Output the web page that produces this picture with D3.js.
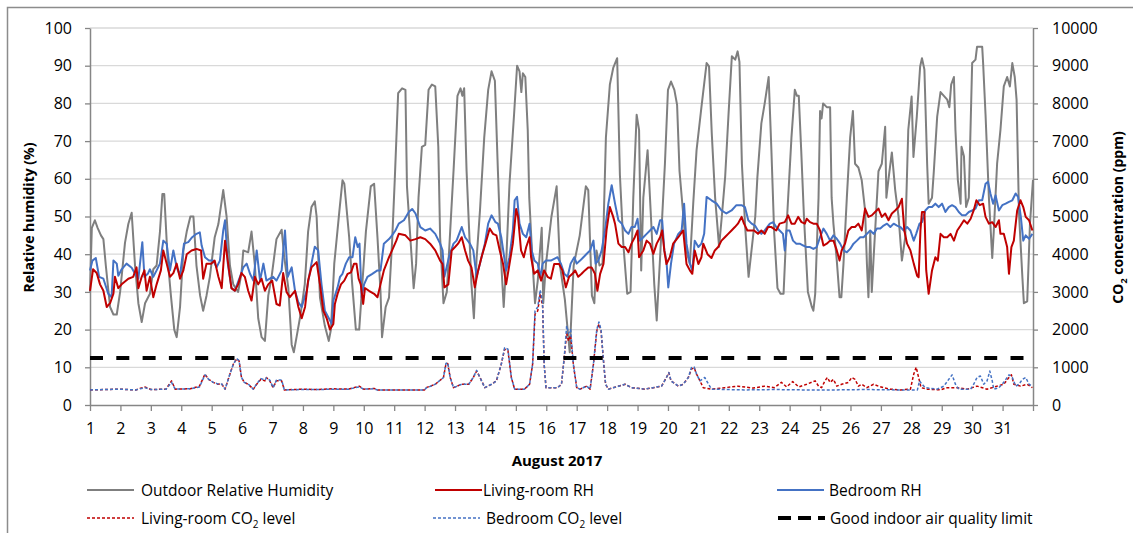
<!DOCTYPE html>
<html>
<head>
<meta charset="utf-8">
<script src="https://cdn.jsdelivr.net/npm/d3@7"></script>
<style>
  body { margin: 0; background: #fff; }
  svg { display: block; font-family: "Open Sans", sans-serif; }
</style>
</head>
<body>
<svg id="svg"></svg>
<script>
// data: [day of August (fractional), value]
const outdoorRH = [[1.0,30],[1.06,47],[1.16,49],[1.25,47],[1.36,45],[1.44,44],[1.52,37],[1.66,26],[1.77,24],[1.88,24],[1.99,30],[2.15,43],[2.26,48],[2.37,51],[2.48,37],[2.59,27],[2.7,22],[2.81,27],[2.97,29.5],[3.08,36],[3.19,37],[3.3,46],[3.38,56],[3.44,56],[3.55,39],[3.66,29],[3.77,20],[3.85,18],[3.96,26],[4.07,41],[4.18,46],[4.3,50],[4.4,50],[4.5,37],[4.62,29],[4.72,25],[4.83,29],[4.94,34],[5.1,44.5],[5.22,48],[5.38,57],[5.49,50],[5.6,37],[5.71,32],[5.87,30],[5.98,35],[6.04,41],[6.2,40.5],[6.31,46],[6.42,37],[6.53,23],[6.64,18],[6.75,17],[6.86,29],[6.97,34],[7.13,44],[7.3,46.5],[7.39,39],[7.52,31],[7.63,16],[7.7,14],[7.79,18],[7.9,23],[8.0,28.5],[8.06,32],[8.17,46],[8.28,52.5],[8.39,54],[8.45,50],[8.56,28.5],[8.72,21],[8.85,17],[8.92,20],[9.03,37.5],[9.2,51.6],[9.3,59.6],[9.36,58.7],[9.52,44.5],[9.62,32],[9.74,20],[9.85,20],[9.96,33],[10.07,46],[10.23,58],[10.34,58.7],[10.45,44.5],[10.55,30],[10.6,18],[10.72,26],[10.83,28.5],[10.93,43],[11.02,60],[11.13,82.7],[11.26,84],[11.37,83.6],[11.42,58],[11.53,44.5],[11.64,31],[11.72,37.5],[11.8,55],[11.91,68.5],[12.02,69],[12.13,83.6],[12.24,85],[12.35,84.5],[12.45,68.5],[12.51,44.5],[12.62,27],[12.73,30],[12.84,46],[12.95,62],[13.08,82],[13.18,84],[13.24,82],[13.3,84],[13.38,62],[13.54,32],[13.62,23],[13.71,39],[13.82,51.6],[13.96,71],[14.09,83.6],[14.2,88.5],[14.31,86],[14.41,62],[14.52,37.5],[14.6,26],[14.68,37.5],[14.79,58.7],[14.94,77],[15.04,90],[15.12,88.5],[15.18,83],[15.23,88],[15.31,87],[15.39,73],[15.44,55],[15.55,37.5],[15.63,27],[15.72,33],[15.85,47],[15.9,27],[15.99,37.5],[16.17,50],[16.34,58],[16.45,37],[16.61,28],[16.77,14],[16.9,37],[17.1,45],[17.3,58],[17.38,57],[17.5,29],[17.58,27],[17.65,41],[17.75,37],[17.85,37.5],[17.96,71],[18.09,85],[18.2,89.4],[18.33,92],[18.42,61],[18.53,43],[18.66,29.5],[18.77,30],[18.86,55],[18.97,77],[19.05,73],[19.12,35.7],[19.19,55],[19.33,67.6],[19.44,50],[19.55,32],[19.63,22.4],[19.74,39],[19.9,64],[20.0,83.6],[20.1,85.8],[20.21,83.6],[20.3,79.6],[20.38,62],[20.49,51.6],[20.6,41],[20.72,37.5],[20.83,53.4],[20.94,67.6],[21.1,79],[21.27,90.7],[21.35,89.8],[21.44,72],[21.55,55],[21.68,42],[21.77,50],[21.88,60.5],[21.99,77],[22.1,92.5],[22.21,91.6],[22.29,93.8],[22.35,91],[22.43,64],[22.54,47],[22.65,34],[22.76,42],[22.87,50],[22.94,60.5],[23.07,74.7],[23.18,80],[23.31,87],[23.4,67.6],[23.49,46],[23.6,31],[23.7,29.5],[23.8,29.5],[23.89,46],[24.06,71],[24.17,83.6],[24.24,82],[24.3,82],[24.38,67.6],[24.47,50],[24.6,30],[24.73,26],[24.78,25],[24.84,29.5],[24.95,55],[25.0,78],[25.05,76],[25.1,80],[25.22,79],[25.33,79],[25.38,55],[25.44,48],[25.55,38.3],[25.64,28.6],[25.7,28.6],[25.77,37.5],[25.88,55],[25.99,71],[26.08,78],[26.15,64],[26.26,63],[26.37,59.6],[26.48,51.6],[26.54,37.5],[26.59,28.6],[26.65,46],[26.7,30],[26.76,39],[26.92,62],[27.03,64],[27.14,73.8],[27.18,55],[27.25,60],[27.36,67],[27.47,57],[27.58,50],[27.69,38.3],[27.8,44.5],[27.9,73],[28.01,81.8],[28.07,65.8],[28.18,76.5],[28.29,89.8],[28.35,92],[28.43,89],[28.52,64],[28.57,53.4],[28.68,55],[28.74,62],[28.85,76.5],[28.96,83],[29.07,82],[29.18,81],[29.25,79],[29.31,85],[29.4,87],[29.45,73],[29.53,59.6],[29.62,53.4],[29.65,68.5],[29.73,66],[29.8,52.5],[29.89,55],[30.0,90.7],[30.11,91.6],[30.16,95],[30.33,95],[30.36,90.7],[30.44,77],[30.55,55],[30.66,39],[30.71,46],[30.82,64],[30.93,73],[31.04,84.5],[31.15,87],[31.24,84.5],[31.32,90.7],[31.4,87],[31.46,81],[31.54,50.8],[31.65,34],[31.7,27],[31.81,27.5],[31.9,48],[32.0,59.7]];

const livingRH = [[1.0,30.3],[1.1,36],[1.22,35],[1.33,32],[1.44,30.3],[1.55,26],[1.66,27],[1.77,29.5],[1.82,34],[1.93,31],[2.04,32],[2.26,33.5],[2.42,34],[2.53,36.5],[2.59,31],[2.7,34],[2.79,35.7],[2.86,30.3],[2.97,34],[3.08,28.6],[3.19,32],[3.33,35.7],[3.41,41],[3.52,37.5],[3.63,34],[3.74,35],[3.85,37.5],[3.96,33.5],[4.07,35.7],[4.18,40],[4.34,41],[4.5,41.4],[4.65,41],[4.72,33.5],[4.83,37.5],[4.99,37.5],[5.1,38.3],[5.22,34],[5.33,31],[5.44,43.6],[5.57,35.7],[5.65,31],[5.76,30.3],[5.87,32],[5.98,35],[6.09,34],[6.2,30.3],[6.31,27.7],[6.42,34],[6.53,32],[6.64,33.5],[6.75,30.3],[6.86,32],[6.99,33],[7.13,26.8],[7.24,26.4],[7.35,35],[7.46,30],[7.57,28.6],[7.74,30.3],[7.85,26],[7.96,23],[8.07,26],[8.17,33],[8.28,36.5],[8.45,37.9],[8.56,32],[8.67,25],[8.78,23],[8.89,20],[9.0,21.5],[9.05,26.8],[9.14,29.5],[9.25,32],[9.36,33],[9.47,34.8],[9.58,35.2],[9.68,37.5],[9.76,37.5],[9.83,33.5],[9.9,32],[9.98,26.8],[10.04,31],[10.17,30.3],[10.34,29.5],[10.45,28.6],[10.55,32],[10.66,35.7],[10.83,39.2],[10.93,41],[11.07,43.6],[11.15,45.4],[11.37,45],[11.53,43.6],[11.7,44],[11.86,44.5],[12.02,44],[12.18,42.8],[12.35,41],[12.51,38.3],[12.59,37.4],[12.65,31.2],[12.78,32],[12.89,41],[13.0,41.9],[13.1,42.8],[13.22,44.5],[13.33,41],[13.43,38.3],[13.54,36.5],[13.65,31.2],[13.76,35.7],[13.87,39.2],[14.0,42.8],[14.14,46.8],[14.25,45.4],[14.36,45],[14.47,41],[14.58,37.4],[14.68,32],[14.79,37.4],[14.9,42.8],[15.01,52],[15.07,50],[15.17,41],[15.26,39.2],[15.34,41.9],[15.45,44.5],[15.5,39.2],[15.6,34.8],[15.72,35.7],[15.83,33],[15.93,35.7],[16.04,34],[16.15,33.5],[16.26,37.4],[16.42,37.4],[16.53,35.7],[16.64,31.2],[16.75,34],[16.86,34.8],[16.95,35.7],[17.05,34],[17.16,34.8],[17.27,35.7],[17.38,36.5],[17.49,36.5],[17.6,34.8],[17.68,30.3],[17.77,34.8],[17.88,37.4],[17.98,46.3],[18.09,52.5],[18.2,49.9],[18.26,48.1],[18.37,42.8],[18.48,41.9],[18.59,41.9],[18.7,40.5],[18.8,42.8],[18.91,44.5],[19.0,46.3],[19.05,39.2],[19.19,41],[19.3,43.6],[19.41,42.8],[19.52,40.1],[19.63,42.8],[19.74,44.5],[19.81,46.3],[19.88,41],[19.95,37.4],[20.06,39.2],[20.17,42.8],[20.34,44.5],[20.5,46.3],[20.61,37.4],[20.72,35.7],[20.8,34.8],[20.88,41],[21.0,37.4],[21.1,39.2],[21.16,42.8],[21.3,40],[21.43,39],[21.54,41],[21.65,41.9],[21.76,43.6],[21.87,44.5],[21.98,45.4],[22.09,46.3],[22.2,47.2],[22.3,48.1],[22.42,49.9],[22.5,48.1],[22.61,46.3],[22.72,46.3],[22.83,46.3],[22.96,45.4],[23.07,46.3],[23.18,45.4],[23.29,47.2],[23.4,47.2],[23.56,46.3],[23.67,48.1],[23.84,48.5],[23.95,50.3],[24.06,48.1],[24.17,48.1],[24.28,49.9],[24.39,48.5],[24.5,48.1],[24.56,49.4],[24.67,48.5],[24.78,48.1],[24.89,48.1],[25.0,46.3],[25.11,42.3],[25.22,42.8],[25.33,43.6],[25.44,43.6],[25.55,41],[25.64,38.3],[25.71,41],[25.82,42.8],[25.93,46.3],[26.04,47.2],[26.15,47.2],[26.26,48.1],[26.37,46.3],[26.48,52.1],[26.59,49.9],[26.7,50.3],[26.81,51.2],[26.92,52.1],[27.03,49.9],[27.14,50.8],[27.25,49],[27.36,50.8],[27.47,51.6],[27.58,52.5],[27.69,54.7],[27.77,46.3],[27.86,42.8],[27.97,41],[28.08,37.5],[28.19,34.3],[28.24,33.9],[28.3,46.3],[28.35,51.2],[28.43,51.2],[28.49,35.7],[28.57,29.5],[28.68,35.7],[28.79,39.2],[28.87,38.3],[28.96,45.4],[29.07,44.5],[29.18,44.5],[29.29,45.4],[29.4,43.6],[29.51,46.3],[29.62,47.6],[29.73,49],[29.84,48.1],[29.95,49.4],[30.05,51.6],[30.14,54.3],[30.25,53],[30.36,53.4],[30.44,49.9],[30.55,48.1],[30.66,48.5],[30.77,47.2],[30.88,49],[30.93,45.4],[31.04,45.4],[31.15,41.9],[31.21,34.8],[31.29,41.9],[31.37,43.6],[31.48,51.6],[31.59,54.3],[31.68,52.5],[31.76,49.9],[31.87,49],[31.98,46.3]];

const bedroomRH = [[1.0,35.7],[1.08,38.3],[1.19,39],[1.3,34],[1.44,33.5],[1.6,29.5],[1.71,28.6],[1.77,38.3],[1.88,37.5],[1.93,34.3],[2.04,36],[2.2,37.5],[2.37,36.4],[2.48,34.8],[2.59,33.5],[2.72,43.2],[2.79,34],[2.9,34.8],[2.97,36],[3.08,34],[3.19,35.7],[3.3,37.5],[3.41,43.6],[3.52,42.8],[3.63,35.7],[3.74,41],[3.85,36.5],[3.96,34.3],[4.09,42.8],[4.23,43.2],[4.36,44.5],[4.5,45.4],[4.61,45.8],[4.67,42.3],[4.78,39.2],[4.91,38.3],[5.05,38.3],[5.16,36.5],[5.27,38.3],[5.38,46.3],[5.44,49],[5.53,37.5],[5.65,31],[5.76,30.3],[5.93,34],[6.04,36.5],[6.15,37.5],[6.26,34.8],[6.37,33],[6.48,41],[6.59,33],[6.7,37.5],[6.8,33],[6.91,33.5],[7.02,34],[7.13,33],[7.3,35.7],[7.41,46.3],[7.5,34],[7.63,36.5],[7.74,30.3],[7.85,27.2],[7.96,26],[8.12,30.3],[8.28,37.5],[8.39,42],[8.5,41],[8.61,32],[8.72,25],[8.89,22.4],[8.95,21.5],[9.0,27.7],[9.14,31.2],[9.22,34],[9.3,34.8],[9.41,37.5],[9.52,39.2],[9.63,39.2],[9.72,44.5],[9.8,41.9],[9.86,42.8],[9.93,28.6],[10.01,32],[10.12,34],[10.28,34.8],[10.45,35.7],[10.55,35.7],[10.66,42.8],[10.83,44],[10.93,45],[11.04,46.3],[11.15,48.1],[11.32,49],[11.48,51.2],[11.59,52],[11.7,50.8],[11.86,47.2],[12.02,46.3],[12.18,46.8],[12.35,45.4],[12.51,42.8],[12.59,41],[12.65,34],[12.8,39.2],[12.95,42.8],[13.05,43.6],[13.22,47.2],[13.33,44.5],[13.49,42.8],[13.6,41],[13.71,34],[13.82,37.5],[13.98,42.8],[14.09,48.1],[14.2,50.3],[14.33,48.5],[14.41,48.1],[14.52,44.5],[14.68,35.7],[14.79,39.2],[14.9,46.3],[14.96,54.3],[15.04,55.2],[15.12,48.1],[15.23,45.4],[15.34,44.5],[15.45,48.1],[15.52,41],[15.61,38.3],[15.72,37.5],[15.8,34],[15.88,37.5],[15.99,38.3],[16.15,38.3],[16.37,39.2],[16.48,37.5],[16.59,34.8],[16.7,34],[16.8,37.5],[16.92,39.2],[17.0,37.5],[17.11,38.3],[17.22,39.2],[17.33,40.1],[17.44,41],[17.55,43.6],[17.62,37.5],[17.71,38.3],[17.82,41],[17.93,46.3],[18.04,53.4],[18.15,58.3],[18.26,53.4],[18.37,49],[18.48,48.1],[18.59,46.3],[18.7,45.4],[18.8,47.2],[18.91,47.2],[19.0,49.4],[19.08,43.6],[19.19,44.5],[19.3,45.4],[19.41,46.3],[19.52,47.2],[19.63,45.4],[19.74,49],[19.81,49],[19.88,41],[19.95,38.3],[20.01,31.2],[20.1,37.5],[20.2,42.8],[20.34,45.4],[20.45,46.3],[20.53,53.4],[20.61,42.8],[20.72,37.5],[20.8,35.7],[20.88,43.6],[21.0,41.9],[21.1,42.8],[21.19,45.4],[21.27,55.2],[21.43,54.3],[21.6,53.4],[21.76,51.6],[21.92,50.8],[22.09,51.6],[22.25,53],[22.42,53],[22.53,52.5],[22.64,49],[22.75,48.1],[22.86,47.6],[22.96,46.3],[23.07,45.4],[23.18,46.3],[23.35,48.1],[23.46,48.5],[23.56,47.2],[23.67,46.3],[23.78,45.4],[23.84,41],[23.9,46.3],[24.0,46.3],[24.11,43.6],[24.22,42.8],[24.33,42.8],[24.45,42.3],[24.56,41.9],[24.67,41.9],[24.78,41.4],[24.89,41.9],[25.0,44.5],[25.11,46.8],[25.22,45.4],[25.33,43.6],[25.44,45],[25.55,44.1],[25.66,42.8],[25.77,41],[25.88,40.5],[25.99,41.4],[26.1,42.8],[26.21,43.6],[26.32,44.5],[26.43,44.5],[26.54,45.4],[26.65,46.3],[26.76,45.4],[26.87,46.8],[26.98,46.8],[27.09,47.6],[27.2,48.1],[27.31,47.2],[27.42,48.1],[27.53,47.6],[27.64,47.2],[27.75,46.3],[27.86,47.2],[27.97,46.3],[28.08,43.6],[28.16,45.4],[28.27,48.1],[28.35,48.5],[28.46,51.6],[28.57,52.5],[28.68,52.5],[28.79,53.4],[28.9,52.5],[29.01,53.4],[29.12,51.2],[29.23,52.5],[29.34,53],[29.45,52.5],[29.56,51.2],[29.67,50.3],[29.78,50.3],[29.89,51.2],[30.0,51.6],[30.11,52.1],[30.22,54.3],[30.33,54.3],[30.44,58.7],[30.52,59.2],[30.6,56.1],[30.69,53.4],[30.77,55.6],[30.88,51.6],[30.99,53],[31.1,53.4],[31.21,53.9],[31.32,54.3],[31.43,56.1],[31.51,55.2],[31.6,49.9],[31.68,43.6],[31.76,45],[31.87,44.1],[31.98,45.4]];

const livingCO2 = [[1.0,400],[1.5,410],[2.0,420],[2.5,400],[2.8,480],[3.0,410],[3.5,420],[3.68,640],[3.8,420],[4.3,430],[4.6,500],[4.78,820],[4.9,680],[5.05,600],[5.2,550],[5.33,560],[5.44,420],[5.6,820],[5.71,1080],[5.82,1220],[5.9,1170],[5.98,730],[6.07,600],[6.2,550],[6.37,420],[6.48,550],[6.62,680],[6.75,640],[6.8,730],[6.91,640],[7.02,460],[7.13,640],[7.3,640],[7.39,400],[8.0,420],[8.5,410],[9.0,430],[9.5,420],[9.85,500],[10.0,420],[10.34,440],[10.45,400],[12.0,400],[12.05,460],[12.35,550],[12.62,730],[12.7,1080],[12.76,1100],[12.84,730],[12.95,460],[13.22,550],[13.45,550],[13.6,730],[13.71,900],[13.82,730],[13.98,460],[14.2,550],[14.36,640],[14.52,1080],[14.63,1480],[14.74,1440],[14.85,730],[14.96,420],[15.28,420],[15.45,550],[15.55,1080],[15.63,2410],[15.72,2500],[15.8,2950],[15.88,2600],[15.93,1080],[15.99,460],[16.37,460],[16.5,550],[16.59,1260],[16.67,1900],[16.73,1700],[16.8,1850],[16.89,1080],[17.0,460],[17.11,420],[17.33,500],[17.44,420],[17.55,1080],[17.66,1970],[17.73,2150],[17.8,1970],[17.88,1170],[17.95,550],[18.04,420],[18.59,550],[18.8,460],[19.24,420],[19.79,500],[19.95,730],[20.03,860],[20.1,640],[20.34,500],[20.5,550],[20.67,730],[20.77,950],[20.86,990],[20.94,820],[21.05,640],[21.16,460],[21.43,420],[21.87,460],[22.3,500],[22.8,450],[23.18,500],[23.5,460],[23.73,600],[23.9,480],[24.1,620],[24.3,480],[24.56,550],[24.84,640],[24.95,500],[25.05,460],[25.16,640],[25.24,730],[25.33,600],[25.44,680],[25.55,500],[25.71,550],[25.93,600],[26.04,730],[26.15,680],[26.26,500],[26.37,550],[26.54,460],[26.76,550],[26.92,500],[27.09,460],[27.31,420],[27.64,400],[27.97,420],[28.08,820],[28.16,1000],[28.24,730],[28.32,460],[28.52,420],[28.96,400],[29.18,460],[29.5,460],[29.84,420],[30.16,500],[30.49,420],[30.82,500],[31.04,550],[31.21,730],[31.29,800],[31.37,550],[31.59,500],[31.81,550],[31.98,460]];

const bedroomCO2 = [[1.0,400],[1.5,410],[2.0,420],[2.5,400],[2.8,460],[3.0,410],[3.5,420],[3.68,600],[3.8,420],[4.3,430],[4.6,480],[4.78,800],[4.9,680],[5.05,600],[5.2,560],[5.33,560],[5.44,420],[5.6,820],[5.71,1080],[5.82,1230],[5.9,1180],[5.98,730],[6.07,600],[6.2,560],[6.37,420],[6.48,560],[6.62,700],[6.75,660],[6.8,720],[6.91,660],[7.02,460],[7.13,660],[7.3,660],[7.39,400],[8.0,410],[8.5,410],[9.0,420],[9.5,420],[9.85,480],[10.0,420],[10.34,430],[10.45,400],[12.0,400],[12.05,450],[12.35,550],[12.62,730],[12.7,1100],[12.76,1120],[12.84,730],[12.95,460],[13.22,550],[13.45,550],[13.6,730],[13.71,920],[13.82,730],[13.98,460],[14.2,550],[14.36,640],[14.52,1080],[14.63,1520],[14.74,1480],[14.85,730],[14.96,420],[15.28,420],[15.45,550],[15.55,1080],[15.63,2500],[15.72,2600],[15.8,3050],[15.88,2700],[15.93,1080],[15.99,460],[16.37,460],[16.5,550],[16.59,1260],[16.67,2100],[16.73,1900],[16.8,2000],[16.89,1080],[17.0,460],[17.11,420],[17.33,500],[17.44,420],[17.55,1080],[17.66,2000],[17.73,2200],[17.8,2000],[17.88,1170],[17.95,550],[18.04,420],[18.59,550],[18.8,460],[19.24,420],[19.79,500],[19.95,730],[20.03,860],[20.1,640],[20.34,500],[20.5,550],[20.67,730],[20.77,990],[20.86,1010],[20.94,820],[21.05,640],[21.21,730],[21.3,600],[21.43,420],[22.5,400],[23.5,410],[24.5,400],[25.5,400],[26.5,410],[27.5,400],[28.2,400],[28.27,640],[28.35,550],[28.46,460],[28.85,420],[29.07,500],[29.23,680],[29.34,800],[29.45,550],[29.56,420],[29.95,420],[30.05,550],[30.16,730],[30.27,770],[30.38,550],[30.49,640],[30.58,900],[30.66,640],[30.71,420],[30.88,460],[31.04,600],[31.21,800],[31.32,730],[31.43,500],[31.54,550],[31.65,680],[31.76,730],[31.87,550],[31.98,500]];

const co2Limit = 1250;
const dayTicks = d3.range(1, 33); // tick 32 = end of Aug 31, unlabeled
const rhTicks = d3.range(0, 101, 10);
const co2Ticks = d3.range(0, 10001, 1000);

const width = 1133;
const height = 533;
const margin = { top: 28, left: 90, bottom: 128, right: 100 };

const svg = d3.select("#svg").attr("width", width).attr("height", height);

// chart border
svg.append("rect")
    .attr("x", 7.5).attr("y", 7.5)
    .attr("width", width + 20).attr("height", height + 20)
    .attr("fill", "none")
    .attr("stroke", "#8c8c8c")
    .attr("stroke-width", 1.5);

const x = d3.scaleLinear().domain([1, 32]).range([margin.left, width - margin.right]);
const yL = d3.scaleLinear().domain([0, 100]).range([height - margin.bottom, margin.top]);
const yR = d3.scaleLinear().domain([0, 10000]).range([height - margin.bottom, margin.top]);

// gridlines
svg.append("g")
    .selectAll("line")
    .data(rhTicks.filter((d) => d > 0))
    .join("line")
    .attr("x1", x(1)).attr("x2", x(32))
    .attr("y1", (d) => yL(d)).attr("y2", (d) => yL(d))
    .attr("stroke", "#d9d9d9")
    .attr("stroke-width", 1.3);

// axes
function styleAxis(g, size) {
  g.select(".domain").attr("stroke", "#868686").attr("stroke-width", 1.5);
  g.selectAll(".tick line").attr("stroke", "#868686").attr("stroke-width", 1.3);
  g.selectAll(".tick text")
      .attr("fill", "#000")
      .style("font-family", "Open Sans, sans-serif")
      .style("font-size", size + "px");
}

svg.append("g")
    .attr("transform", `translate(0,${yL(0)})`)
    .call(d3.axisBottom(x).tickValues(dayTicks).tickFormat((d) => (d < 32 ? d : "")).tickSize(6).tickSizeOuter(0).tickPadding(12))
    .call((g) => styleAxis(g, 16));

svg.append("g")
    .attr("transform", `translate(${x(1)},0)`)
    .call(d3.axisLeft(yL).tickValues(rhTicks).tickSize(5).tickSizeOuter(0).tickPadding(13))
    .call((g) => styleAxis(g, 16));

svg.append("g")
    .attr("transform", `translate(${x(32)},0)`)
    .call(d3.axisRight(yR).tickValues(co2Ticks).tickFormat(d3.format("d")).tickSize(5).tickSizeOuter(0).tickPadding(14))
    .call((g) => styleAxis(g, 16));

// axis titles
svg.append("text")
    .attr("transform", `translate(34,${(yL(0) + yL(100)) / 2 + 1}) rotate(-90)`)
    .attr("text-anchor", "middle")
    .style("font-size", "14px")
    .style("font-weight", "bold")
    .text("Relative humidity (%)");

const rTitle = svg.append("text")
    .attr("transform", `translate(1123,${(yL(0) + yL(100)) / 2 + 1}) rotate(-90)`)
    .attr("text-anchor", "middle")
    .style("font-size", "14px")
    .style("font-weight", "bold");
rTitle.append("tspan").text("CO");
rTitle.append("tspan").attr("dy", 4).style("font-size", "9px").text("2");
rTitle.append("tspan").attr("dy", -4).text(" concentration (ppm)");

svg.append("text")
    .attr("x", 557).attr("y", 466)
    .attr("text-anchor", "middle")
    .style("font-size", "15px")
    .style("font-weight", "bold")
    .text("August 2017");

// lines
const lineRH = d3.line().x((d) => x(d[0])).y((d) => yL(d[1]));
const lineCO2 = d3.line().x((d) => x(d[0])).y((d) => yR(d[1]));

const series = [
  { data: outdoorRH, line: lineRH, color: "#7f7f7f", w: 2, dash: null },
  { data: livingCO2, line: lineCO2, color: "#c00000", w: 1.5, dash: "3,2" },
  { data: bedroomCO2, line: lineCO2, color: "#4472c4", w: 1.5, dash: "3,2" },
  { data: bedroomRH, line: lineRH, color: "#4472c4", w: 2, dash: null },
  { data: livingRH, line: lineRH, color: "#c00000", w: 2, dash: null },
];

series.forEach((s) => {
  svg.append("path")
      .datum(s.data)
      .attr("d", s.line)
      .attr("fill", "none")
      .attr("stroke", s.color)
      .attr("stroke-width", s.w)
      .attr("stroke-linejoin", "round")
      .attr("stroke-dasharray", s.dash);
});

// good indoor air quality limit
svg.append("line")
    .attr("x1", x(1)).attr("x2", x(32))
    .attr("y1", yR(co2Limit)).attr("y2", yR(co2Limit))
    .attr("stroke", "#000")
    .attr("stroke-width", 4)
    .attr("stroke-dasharray", "13,13.3");

// legend
const legendItems = [
  { label: ["Outdoor Relative Humidity"], color: "#7f7f7f", w: 2, dash: null, x: 87, y: 490, gap: 54 },
  { label: ["Living-room RH"], color: "#c00000", w: 2, dash: null, x: 435, y: 490, gap: 48 },
  { label: ["Bedroom RH"], color: "#4472c4", w: 2, dash: null, x: 777, y: 490, gap: 52 },
  { label: ["Living-room CO", "2", " level"], color: "#c00000", w: 1.5, dash: "3,2", x: 87, y: 518, gap: 54 },
  { label: ["Bedroom CO", "2", " level"], color: "#4472c4", w: 1.5, dash: "3,2", x: 433, y: 518, gap: 53 },
  { label: ["Good indoor air quality limit"], color: "#000", w: 4, dash: "13,7", x: 778, y: 518, gap: 52 },
];

const legend = svg.append("g");
legendItems.forEach((d) => {
  legend.append("line")
      .attr("x1", d.x).attr("x2", d.x + 47)
      .attr("y1", d.y).attr("y2", d.y)
      .attr("stroke", d.color)
      .attr("stroke-width", d.w)
      .attr("stroke-dasharray", d.dash);
  const t = legend.append("text")
      .attr("x", d.x + d.gap).attr("y", d.y + 6)
      .style("font-size", "15.5px");
  t.append("tspan").text(d.label[0]);
  if (d.label.length > 1) {
    t.append("tspan").attr("dy", 4).style("font-size", "10px").text(d.label[1]);
    t.append("tspan").attr("dy", -4).text(d.label[2]);
  }
});
</script>
</body>
</html>
